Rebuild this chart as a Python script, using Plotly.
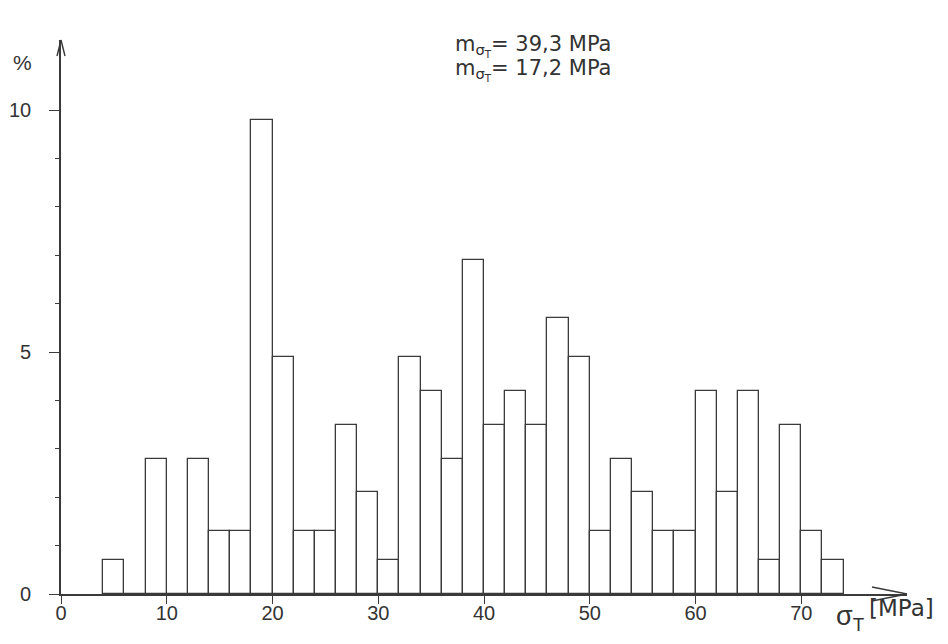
import plotly.graph_objects as go

# ---- data ----
bin_start = [4, 6, 8, 10, 12, 14, 16, 18, 20, 22, 24, 26, 28, 30, 32, 34, 36, 38,
             40, 42, 44, 46, 48, 50, 52, 54, 56, 58, 60, 62, 64, 66, 68, 70, 72]
percent = [0.7, 0.0, 2.8, 0.0, 2.8, 1.3, 1.3, 9.8, 4.9, 1.3, 1.3, 3.5, 2.1, 0.7, 4.9, 4.2, 2.8, 6.9,
           3.5, 4.2, 3.5, 5.7, 4.9, 1.3, 2.8, 2.1, 1.3, 1.3, 4.2, 2.1, 4.2, 0.7, 3.5, 1.3, 0.7]
bin_width = 2
x_ticks = [0, 10, 20, 30, 40, 50, 60, 70]
y_major_step = 5
y_minor_ticks = [1, 2, 3, 4, 6, 7, 8, 9]
stat_lines = ["m<sub>σ<sub>T</sub></sub>= 39,3 MPa", "m<sub>σ<sub>T</sub></sub>= 17,2 MPa"]

INK = "#3a3a3a"
TXT = "#333333"
FONT = "Liberation Sans, Arial, sans-serif"
WIDE = "DejaVu Sans, Liberation Sans, sans-serif"

# page body has an 8px margin -> figure is placed at (8, 8) in the window
OFF = 8
WIDTH, HEIGHT = 948 - OFF, 644 - OFF
L, R, T, B = 53, 41, 32, 50
PW = WIDTH - L - R
PH = HEIGHT - T - B


def px(xp):
    """window x pixel -> paper x"""
    return (xp - OFF - L) / PW


def py(yp):
    """window y pixel -> paper y"""
    return (HEIGHT - B - (yp - OFF)) / PH


centers = [s + bin_width / 2 for s in bin_start]

fig = go.Figure()
fig.add_trace(go.Bar(
    x=centers, y=percent, width=bin_width,
    marker=dict(color="white", line=dict(color=INK, width=1.3)),
    hoverinfo="skip", showlegend=False,
))
# empty helper trace so that the minor-tick axis exists
fig.add_trace(go.Scatter(x=[], y=[], yaxis="y2", showlegend=False, hoverinfo="skip"))

fig.update_layout(
    width=WIDTH, height=HEIGHT,
    margin=dict(l=L, r=R, t=T, b=B, autoexpand=False),
    paper_bgcolor="white", plot_bgcolor="white",
    font=dict(family=FONT, size=20, color=TXT),
    bargap=0,
    xaxis=dict(
        range=[0, 80], tickmode="array", tickvals=x_ticks,
        ticktext=[str(v) for v in x_ticks], automargin=False,
        showgrid=False, zeroline=False, showline=True, linecolor=INK, linewidth=1.6,
        ticks="outside", ticklen=8, tickwidth=1.4, tickcolor=INK,
        ticklabelstandoff=-8,
        tickfont=dict(size=20, color=TXT, family=FONT),
    ),
    yaxis=dict(
        range=[0, 11.45], tickmode="linear", tick0=0, dtick=y_major_step,
        automargin=False,
        showgrid=False, zeroline=False, showline=True, linecolor=INK, linewidth=1.6,
        ticks="outside", ticklen=10, tickwidth=1.4, tickcolor=INK,
        ticklabelstandoff=14,
        tickfont=dict(size=20, color=TXT, family=FONT),
    ),
    yaxis2=dict(
        overlaying="y", side="left", range=[0, 11.45], tickmode="array",
        tickvals=y_minor_ticks, showticklabels=False, automargin=False,
        showgrid=False, zeroline=False, showline=False,
        ticks="outside", ticklen=5, tickwidth=1.3, tickcolor=INK,
    ),
)

# arrow heads
shapes = []
for dx in (-4, 4):
    shapes.append(dict(type="line", xref="paper", yref="paper",
                       xsizemode="pixel", ysizemode="pixel", xanchor=0, yanchor=1,
                       x0=0, y0=0, x1=dx, y1=-16, line=dict(color=INK, width=1.4)))
for dy in (-7, 7):
    shapes.append(dict(type="line", xref="paper", yref="paper",
                       xsizemode="pixel", ysizemode="pixel", xanchor=1, yanchor=0,
                       x0=0, y0=0, x1=-35, y1=dy, line=dict(color=INK, width=1.4)))
fig.update_layout(shapes=shapes)

ann = []
ann.append(dict(text="%", xref="paper", yref="paper", x=px(22), y=py(62),
                xanchor="center", yanchor="middle", showarrow=False,
                font=dict(size=21, color=TXT, family=FONT)))
ann.append(dict(text="σ<sub>T</sub>", xref="paper", yref="paper", x=px(834), y=py(618),
                xanchor="left", yanchor="middle", showarrow=False,
                font=dict(size=27, color=TXT, family=FONT)))
ann.append(dict(text="[MPa]", xref="paper", yref="paper", x=px(867), y=py(608),
                xanchor="left", yanchor="middle", showarrow=False,
                font=dict(size=23, color=TXT, family=WIDE)))
for i, line in enumerate(stat_lines):
    ann.append(dict(text=line, xref="paper", yref="paper", x=px(453), y=py(46 + 24 * i),
                    xanchor="left", yanchor="middle", showarrow=False,
                    font=dict(size=21, color=TXT, family=WIDE)))
fig.update_layout(annotations=ann)

fig.write_html("out.html")
